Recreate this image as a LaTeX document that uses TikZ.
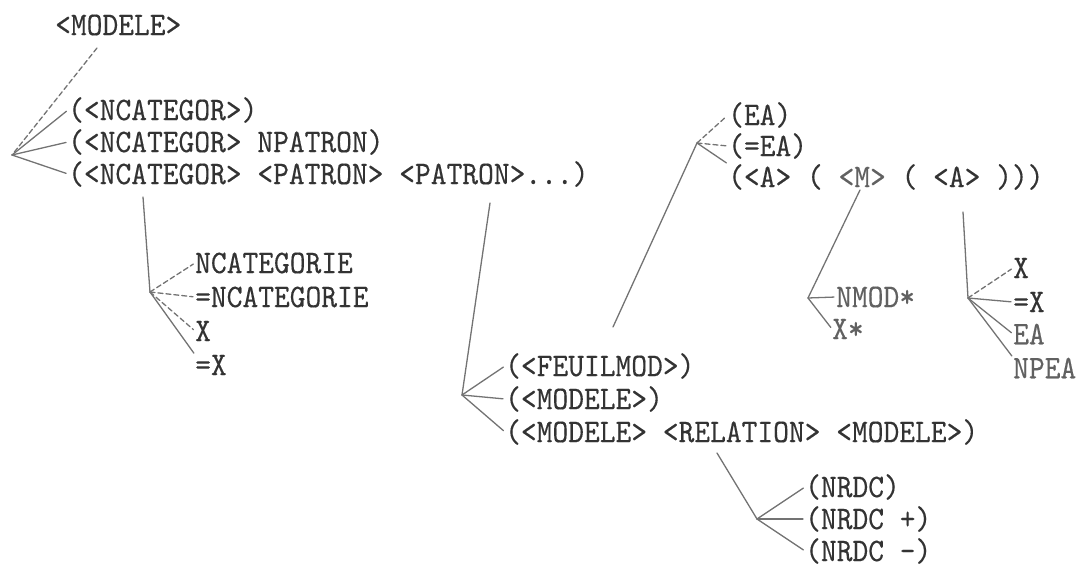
\documentclass[tikz,border=0pt]{standalone}
\usepackage{fontspec}
\newfontfamily\tw{lmmono10-regular.otf}[FakeStretch=0.91,FakeBold=0.3]
\definecolor{ink}{gray}{0.2}
\definecolor{soft}{gray}{0.38}
\definecolor{pen}{gray}{0.45}
\begin{document}
\begin{tikzpicture}[x=1pt,y=-1pt,
  txt/.style={anchor=west,inner sep=0pt,text=ink,font=\tw\fontsize{33}{35}\selectfont},
  pale/.style={txt,text=soft},
  ln/.style={draw=pen,line width=1.3pt,line cap=round},
  dl/.style={ln,dash pattern=on 5pt off 3pt},
  tip/.style={shorten >=2pt}]
\useasboundingbox (0,0) rectangle (1079,569);
% texts
\node[txt] (m0) at (55,25) {<MODELE>};
\node[txt] (r1) at (68,110) {(<NCATEGOR>)};
\node[txt] (r2) at (68,142) {(<NCATEGOR> NPATRON)};
\node[txt] (r3) at (68,174) {(<NCATEGOR> <PATRON> <PATRON>...)};
\node[txt] (c1) at (195,263) {NCATEGORIE};
\node[txt] (c2) at (195,297) {=NCATEGORIE};
\node[txt] (c3) at (195,331) {X};
\node[txt] (c4) at (195,365) {=X};
\node[txt] (f1) at (505,366) {(<FEUILMOD>)};
\node[txt] (f2) at (505,399) {(<MODELE>)};
\node[txt] (f3) at (505,432) {(<MODELE> <RELATION> <MODELE>)};
\node[txt] (e1) at (728,115) {(EA)};
\node[txt] (e2) at (728,146) {(=EA)};
\node[txt] (e3) at (728,177) {(<A> ( \textcolor{soft}{<M>} ( <A> )))};
\node[pale] (n1) at (836,297) {NMOD*};
\node[pale] (n2) at (832,329) {X*};
\node[txt] (x1) at (1013,268) {X};
\node[txt] (x2) at (1013,302) {=X};
\node[pale] (x3) at (1013,334) {EA};
\node[pale] (x4) at (1013,368) {NPEA};
\node[txt] (d1) at (805,487) {(NRDC)};
\node[txt] (d2) at (805,519) {(NRDC +)};
\node[txt] (d3) at (805,551) {(NRDC -)};
% vertices and free ends
\coordinate (t1) at (97,48);
\coordinate (V1) at (12,155);
\coordinate (t2) at (143,197);
\coordinate (V2) at (150,292);
\coordinate (t3) at (490,203);
\coordinate (V3) at (462,395);
\coordinate (t4) at (613,327);
\coordinate (V4) at (697,143);
\coordinate (t5) at (860,190);
\coordinate (V5) at (808,298);
\coordinate (t6) at (963,212);
\coordinate (V6) at (968,298);
\coordinate (t7) at (717,453);
\coordinate (V7) at (757,519);
% connectors
\draw[dl] (t1) -- (V1);
\draw[ln,tip] (V1) -- (r1.west);
\draw[ln,tip] (V1) -- (r2.west);
\draw[ln,tip] (V1) -- (r3.west);
\draw[ln] (t2) -- (V2);
\draw[dl,tip] (V2) -- (c1.west);
\draw[dl,tip] (V2) -- (c2.west);
\draw[dl,tip] (V2) -- (c3.west);
\draw[ln,tip] (V2) -- (c4.north west);
\draw[ln] (t3) -- (V3);
\draw[ln,tip] (V3) -- (f1.west);
\draw[ln,tip] (V3) -- (f2.west);
\draw[ln,tip] (V3) -- (f3.west);
\draw[ln] (t4) -- (V4);
\draw[dl,tip] (V4) -- (e1.west);
\draw[dl,tip] (V4) -- (e2.west);
\draw[ln,tip] (V4) -- (e3.north west);
\draw[ln] (t5) -- (V5);
\draw[ln,tip] (V5) -- (n1.west);
\draw[ln,tip] (V5) -- (n2.west);
\draw[ln] (t6) -- (V6);
\draw[dl,tip] (V6) -- (x1.west);
\draw[ln,tip] (V6) -- (x2.west);
\draw[ln,tip] (V6) -- (x3.west);
\draw[ln,tip] (V6) -- (x4.north west);
\draw[ln] (t7) -- (V7);
\draw[ln,tip] (V7) -- (d1.west);
\draw[ln,tip] (V7) -- (d2.west);
\draw[ln,tip] (V7) -- (d3.west);
\end{tikzpicture}
\end{document}
